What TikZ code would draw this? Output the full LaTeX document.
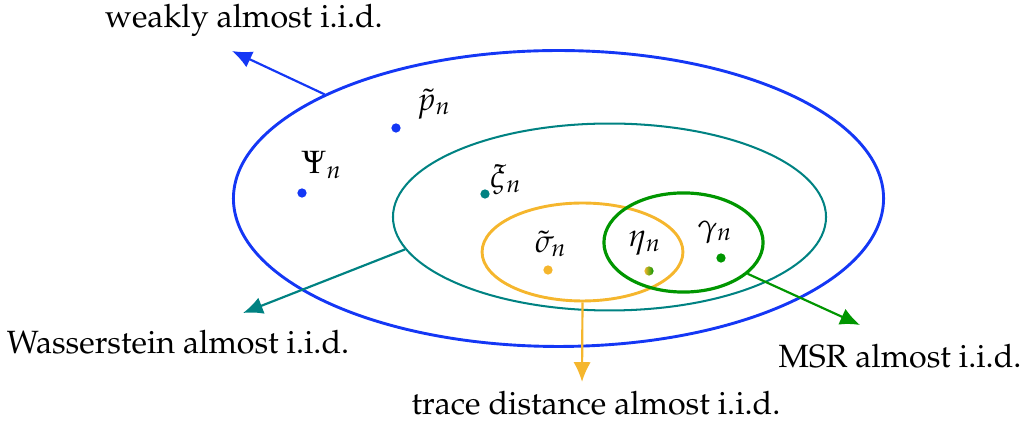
\documentclass[tikz,border=0pt]{standalone}
\usepackage[T1]{fontenc}
\usepackage{mathpazo}
\usepackage{xcolor}
\usepackage{tikz}
\usetikzlibrary{positioning,arrows.meta,shapes.geometric,calc}

\definecolor{weakblue}{RGB}{20,55,245}
\definecolor{wassteal}{RGB}{0,130,130}
\definecolor{traceorange}{RGB}{245,182,45}
\definecolor{msrgreen}{RGB}{0,150,0}

\begin{document}
\begin{tikzpicture}[
    x=0.345pt, y=-0.345pt,
    font=\fontsize{11.1}{13}\selectfont,
    set/.style={ellipse, draw, inner sep=0pt},
    dot/.style={circle, fill=#1, inner sep=0pt, minimum size=3.2pt},
    lab/.style={inner sep=1pt, text=black},
    arr/.style={-{Latex[length=2.4mm,width=2.1mm]}, line width=0.75pt}
]
\useasboundingbox (0,0) rectangle (1029,421);
% ============================================================
% SETS
% ============================================================
\node[set, weakblue, line width=1pt, minimum width=224.3pt, minimum height=102.1pt] (weak)  at (558.5,198.5) {};
\node[set, wassteal, line width=0.7pt, minimum width=149.4pt, minimum height=64.5pt] (wass)  at (609.5,217) {};
\node[set, traceorange, line width=1pt, minimum width=69.3pt, minimum height=33.8pt] (trace) at (582.5,252) {};
\node[set, msrgreen, line width=1.1pt, minimum width=54.9pt, minimum height=34.2pt] (msr)   at (683.5,242.5) {};

% ============================================================
% POINTS
% ============================================================
\node[dot=weakblue]    (psi)   at (302,193) {};
\node[dot=weakblue]    (ptil)  at (396,128) {};
\node[dot=wassteal]    (xi)    at (485,194) {};
\node[dot=traceorange] (sigma) at (548,270) {};
\node[circle, inner sep=0pt, minimum size=3.2pt, left color=traceorange, right color=msrgreen] (eta) at (649,271) {};
\node[dot=msrgreen]    (gamma) at (721,258) {};

\node[lab] at (322,165) {$\Psi_n$};
\node[lab] at (434,104) {$\tilde{p}_n$};
\node[lab] at (506,180) {$\xi_n$};
\node[lab] at (551,244) {$\tilde{\sigma}_n$};
\node[lab] at (645,243) {$\eta_n$};
\node[lab] at (715,232) {$\gamma_n$};

% ============================================================
% NAMES OF THE SETS
% ============================================================
\node[lab] (weaklab)  at (244,20)  {weakly almost i.i.d.};
\node[lab] (wasslab)  at (178,342) {Wasserstein almost i.i.d.};
\node[lab] (tracelab) at (596,403) {trace distance almost i.i.d.};
\node[lab] (msrlab)   at (900,356) {MSR almost i.i.d.};

\coordinate (weaktip)  at (232,51);
\coordinate (wasstip)  at (243,313);
\coordinate (tracetip) at (582,382);
\coordinate (msrtip)   at (860,325);

\draw[arr, weakblue]    (weak.156.9)  -- (weaktip);
\draw[arr, wassteal]    (wass.189.7)  -- (wasstip);
\draw[arr, traceorange] (trace.south) -- (tracetip);
\draw[arr, msrgreen]    (msr.334.4)   -- (msrtip);

\end{tikzpicture}
\end{document}
